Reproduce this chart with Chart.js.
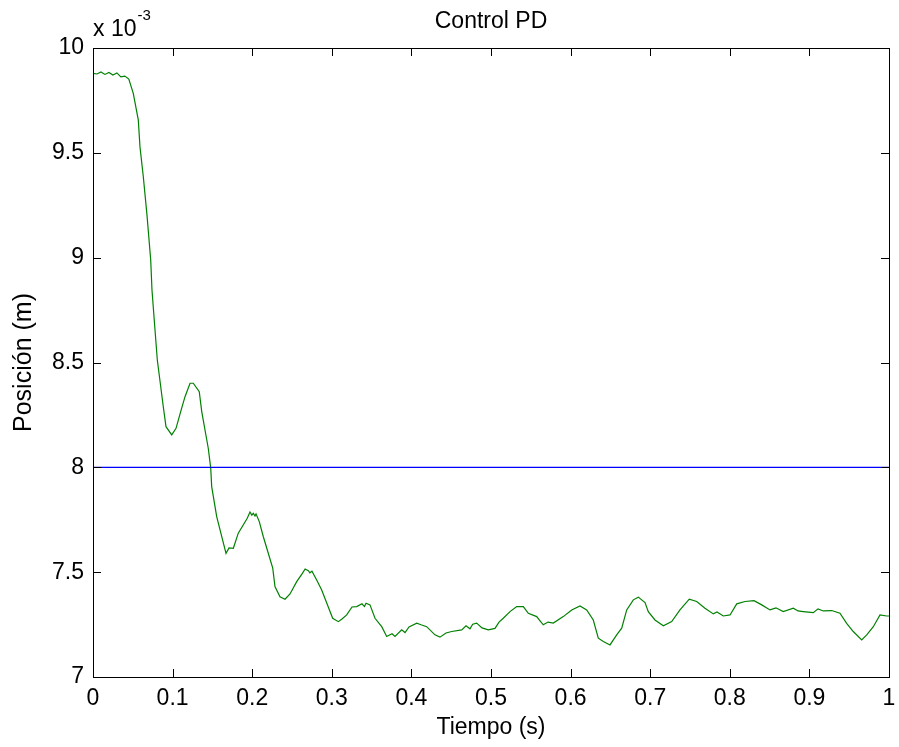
<!DOCTYPE html>
<html>
<head>
<meta charset="utf-8">
<title>Control PD</title>
<script src="https://cdn.jsdelivr.net/npm/chart.js@4.4.1/dist/chart.umd.min.js"></script>
<style>
  html, body { margin: 0; padding: 0; background: #fff; }
  #wrap { width: 899px; height: 747px; }
</style>
</head>
<body>
<div id="wrap"><canvas id="grafica"></canvas></div>
<script>
// posición medida (x 10^-3 m) frente al tiempo (s)
const tiempo = [
  0, 0.005, 0.01, 0.015, 0.02, 0.025, 0.03, 0.035, 0.04, 0.045,
  0.0506, 0.0569, 0.059, 0.0632, 0.0678, 0.0725, 0.0741, 0.0779, 0.0808, 0.0883,
  0.0917, 0.0989, 0.1043, 0.1114, 0.1156, 0.1219, 0.126, 0.1335, 0.1366, 0.1448,
  0.1479, 0.1491, 0.1554, 0.1671, 0.1709, 0.1763, 0.1825, 0.1938, 0.1972, 0.1995,
  0.2014, 0.2035, 0.2048, 0.2089, 0.2139, 0.2202, 0.2258, 0.2286, 0.2349, 0.2412,
  0.2475, 0.2559, 0.2626, 0.2665, 0.2705, 0.2725, 0.2751, 0.281, 0.2873, 0.294,
  0.3011, 0.3082, 0.3128, 0.3187, 0.3254, 0.3313, 0.3379, 0.341, 0.343, 0.348,
  0.3543, 0.3627, 0.369, 0.3756, 0.3794, 0.3878, 0.392, 0.397, 0.4067, 0.4121,
  0.4192, 0.4296, 0.4359, 0.4435, 0.4506, 0.4632, 0.4686, 0.4736, 0.477, 0.482,
  0.4887, 0.4966, 0.505, 0.5101, 0.5154, 0.5239, 0.5323, 0.5406, 0.5469, 0.5574,
  0.5616, 0.5657, 0.5716, 0.5783, 0.5908, 0.6014, 0.6118, 0.6202, 0.6285, 0.6348,
  0.6411, 0.6495, 0.6579, 0.6642, 0.6705, 0.6788, 0.6851, 0.6935, 0.6976, 0.706,
  0.7165, 0.727, 0.7374, 0.7491, 0.7584, 0.7688, 0.7793, 0.7839, 0.7918, 0.8003,
  0.8087, 0.8191, 0.8304, 0.8401, 0.8505, 0.858, 0.8672, 0.8798, 0.8857, 0.8923,
  0.9049, 0.9108, 0.9175, 0.928, 0.9384, 0.9468, 0.9551, 0.9657, 0.972, 0.9803,
  0.9887, 0.9971, 1
];
const posicion = [
  9.879, 9.876, 9.886, 9.874, 9.883, 9.871, 9.881, 9.862, 9.866, 9.852,
  9.784, 9.657, 9.529, 9.386, 9.204, 8.989, 8.846, 8.655, 8.512, 8.289,
  8.194, 8.155, 8.186, 8.282, 8.337, 8.401, 8.401, 8.361, 8.266, 8.091,
  7.996, 7.908, 7.765, 7.590, 7.616, 7.614, 7.686, 7.757, 7.787, 7.772,
  7.781, 7.768, 7.778, 7.741, 7.670, 7.590, 7.519, 7.431, 7.383, 7.371,
  7.396, 7.455, 7.492, 7.515, 7.507, 7.497, 7.505, 7.463, 7.415, 7.349,
  7.280, 7.264, 7.277, 7.296, 7.334, 7.336, 7.349, 7.336, 7.352, 7.344,
  7.280, 7.240, 7.193, 7.206, 7.193, 7.225, 7.212, 7.239, 7.257, 7.249,
  7.240, 7.201, 7.190, 7.210, 7.217, 7.225, 7.244, 7.230, 7.252, 7.257,
  7.234, 7.225, 7.232, 7.262, 7.280, 7.312, 7.336, 7.336, 7.304, 7.288,
  7.268, 7.249, 7.262, 7.257, 7.288, 7.320, 7.339, 7.320, 7.272, 7.185,
  7.169, 7.153, 7.201, 7.233, 7.320, 7.368, 7.381, 7.355, 7.312, 7.272,
  7.244, 7.264, 7.320, 7.371, 7.360, 7.328, 7.301, 7.310, 7.291, 7.296,
  7.349, 7.360, 7.364, 7.344, 7.320, 7.330, 7.312, 7.328, 7.315, 7.312,
  7.307, 7.325, 7.315, 7.317, 7.304, 7.256, 7.217, 7.177, 7.201, 7.240,
  7.296, 7.291, 7.291
];

// referencia de posición
const tiempoRef = [0, 1];
const referencia = [8, 8];

const ticksX = [0, 0.1, 0.2, 0.3, 0.4, 0.5, 0.6, 0.7, 0.8, 0.9, 1];
const ticksY = [7, 7.5, 8, 8.5, 9, 9.5, 10];

const FUENTE = "'Liberation Sans', Arial, Helvetica, sans-serif";

function puntos(xs, ys) {
  return xs.map((x, i) => ({ x, y: ys[i] }));
}

// marco tipo MATLAB: caja cerrada con marcas hacia dentro, título y exponente
const marcoMatlab = {
  id: "marcoMatlab",
  afterDraw(chart) {
    const { ctx, chartArea: a, scales } = chart;
    const largo = 8;
    ctx.save();
    ctx.strokeStyle = "#000";
    ctx.lineWidth = 1;
    ctx.beginPath();
    ticksX.forEach(v => {
      const px = Math.round(scales.x.getPixelForValue(v)) + 0.5;
      ctx.moveTo(px, a.bottom); ctx.lineTo(px, a.bottom - largo);
      ctx.moveTo(px, a.top); ctx.lineTo(px, a.top + largo);
    });
    ticksY.forEach(v => {
      const py = Math.round(scales.y.getPixelForValue(v)) + 0.5;
      ctx.moveTo(a.left, py); ctx.lineTo(a.left + largo, py);
      ctx.moveTo(a.right, py); ctx.lineTo(a.right - largo, py);
    });
    ctx.stroke();
    ctx.strokeRect(Math.round(a.left) + 0.5, Math.round(a.top) + 0.5,
      Math.round(a.right - a.left), Math.round(a.bottom - a.top));

    ctx.fillStyle = "#000";
    ctx.textBaseline = "alphabetic";
    ctx.textAlign = "center";
    ctx.font = "23px " + FUENTE;
    ctx.fillText("Control PD", (a.left + a.right) / 2, 28);

    ctx.textAlign = "left";
    ctx.fillText("x 10", a.left, 36);
    const w = ctx.measureText("x 10").width;
    ctx.font = "15px " + FUENTE;
    ctx.fillText("-3", a.left + w + 1, 20);
    ctx.restore();
  }
};

const formato = v => String(+Number(v).toFixed(1));

new Chart(document.getElementById("grafica"), {
  type: "line",
  data: {
    datasets: [
      {
        label: "Referencia",
        data: puntos(tiempoRef, referencia),
        borderColor: "rgb(0,0,255)",
        borderWidth: 1.2,
        pointRadius: 0,
        tension: 0
      },
      {
        label: "Posición",
        data: puntos(tiempo, posicion),
        borderColor: "rgb(0,128,0)",
        borderWidth: 1.2,
        pointRadius: 0,
        tension: 0
      }
    ]
  },
  options: {
    responsive: true,
    maintainAspectRatio: false,
    animation: false,
    layout: { padding: { left: 0, right: 10, top: 48, bottom: 0 } },
    plugins: {
      legend: { display: false },
      tooltip: { enabled: false }
    },
    scales: {
      x: {
        type: "linear",
        min: 0,
        max: 1,
        afterFit: s => { s.height = 70; s.paddingLeft = 0; s.paddingRight = 0; },
        afterBuildTicks: s => { s.ticks = ticksX.map(value => ({ value })); },
        grid: { display: false, drawTicks: false },
        border: { display: false },
        ticks: {
          color: "#000",
          padding: 8,
          maxRotation: 0,
          autoSkip: false,
          font: { family: FUENTE, size: 23 },
          callback: formato
        },
        title: {
          display: true,
          text: "Tiempo (s)",
          color: "#000",
          padding: { top: 0, bottom: 6 },
          font: { family: FUENTE, size: 23 }
        }
      },
      y: {
        type: "linear",
        min: 7,
        max: 10,
        afterFit: s => { s.width = 93; s.paddingTop = 0; s.paddingBottom = 0; },
        afterBuildTicks: s => { s.ticks = ticksY.map(value => ({ value })); },
        grid: { display: false, drawTicks: false },
        border: { display: false },
        ticks: {
          color: "#000",
          padding: 9,
          autoSkip: false,
          font: { family: FUENTE, size: 23 },
          callback: formato
        },
        title: {
          display: true,
          text: "Posición (m)",
          color: "#000",
          padding: { top: 9, bottom: 0 },
          font: { family: FUENTE, size: 25 }
        }
      }
    }
  },
  plugins: [marcoMatlab]
});
</script>
</body>
</html>
